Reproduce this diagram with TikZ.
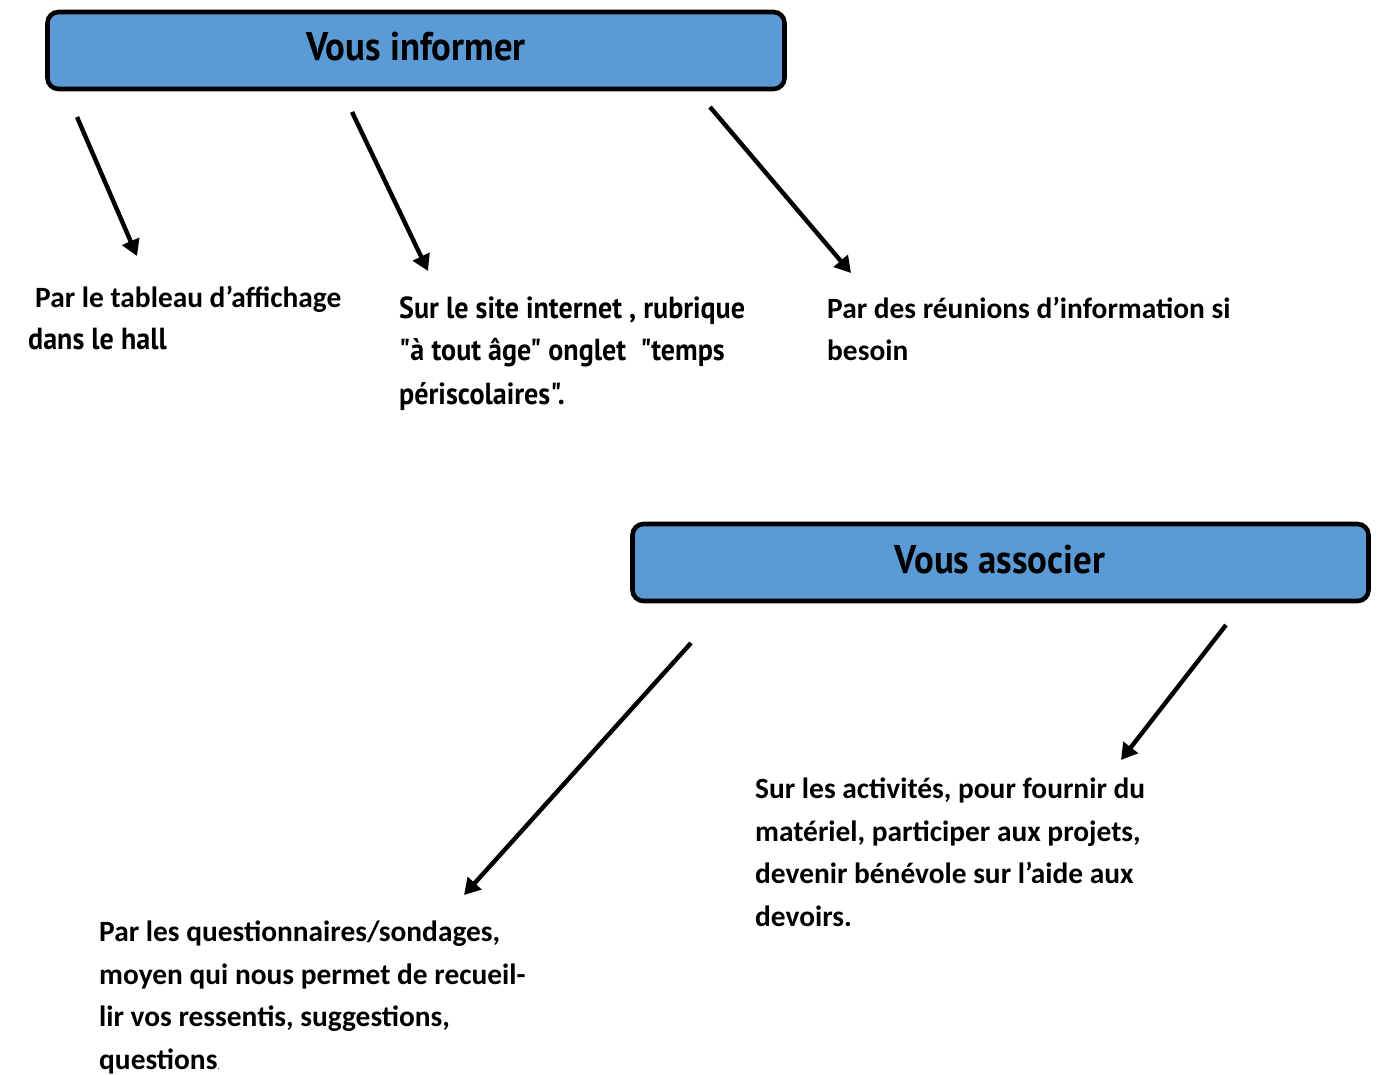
\documentclass[tikz,border=0pt]{standalone}
\usepackage{fontspec}
\setmainfont{Carlito}
\newfontfamily\condfont{PT Sans}[FakeStretch=0.92]
\usetikzlibrary{arrows.meta}
\definecolor{boxblue}{HTML}{5B9BD5}
\tikzset{
  titlebox/.style={draw=black, line width=4.6pt, fill=boxblue, rounded corners=11pt, minimum height=77pt, inner sep=0pt},
  titletext/.style={font=\condfont\bfseries\fontsize{40}{42}\selectfont},
  bodytext/.style={font=\bfseries\fontsize{29.4}{42.5}\selectfont, align=left, anchor=base west, inner sep=0pt},
  condtext/.style={font=\condfont\bfseries\fontsize{30.5}{43}\selectfont, align=left, anchor=base west, inner sep=0pt},
  arr/.style={line width=4.4pt, -{Triangle[length=16pt, width=18pt]}}
}
\begin{document}
\begin{tikzpicture}[x=1pt, y=-1pt]
\useasboundingbox (0,0) rectangle (1382,1075);
% title boxes
\node[titlebox, minimum width=737pt] (b1) at (416,50.5) {};
\node[titletext] (t1) at (416,47) {Vous informer};
\node[titlebox, minimum width=736pt] (b2) at (1000.5,562.5) {};
\node[titletext] (t2) at (1000,560) {Vous associer};
% arrow endpoints
\coordinate (a1s) at (77,117);   \coordinate (a1e) at (137,256);
\coordinate (a2s) at (352,112);  \coordinate (a2e) at (428,271);
\coordinate (a3s) at (710,107);  \coordinate (a3e) at (851,273);
\coordinate (a4s) at (691,643);  \coordinate (a4e) at (464,895);
\coordinate (a5s) at (1226,625); \coordinate (a5e) at (1121,760);
\draw[arr] (a1s) -- (a1e);
\draw[arr] (a2s) -- (a2e);
\draw[arr] (a3s) -- (a3e);
\draw[arr] (a4s) -- (a4e);
\draw[arr] (a5s) -- (a5e);
% texts (anchor = baseline of the last line)
\node[bodytext] (p1) at (35,308) {Par le tableau d’affichage};
\node[condtext] (p1b) at (28,350) {dans le hall};
\node[condtext] (p2) at (399,404) {Sur le site internet , rubrique\\"à tout âge" onglet \ "temps\\périscolaires".};
\node[bodytext] (p3) at (827,361) {Par des réunions d’information si\\besoin};
\node[bodytext] (p4) at (755,926) {Sur les activités, pour fournir du\\matériel, participer aux projets,\\devenir bénévole sur l’aide aux\\devoirs.};
\node[bodytext] (p5) at (99,1069) {Par les questionnaires/sondages,\\moyen qui nous permet de recueil-\\lir vos ressentis, suggestions,\\questions{\mdseries\small.}};
\end{tikzpicture}
\end{document}
